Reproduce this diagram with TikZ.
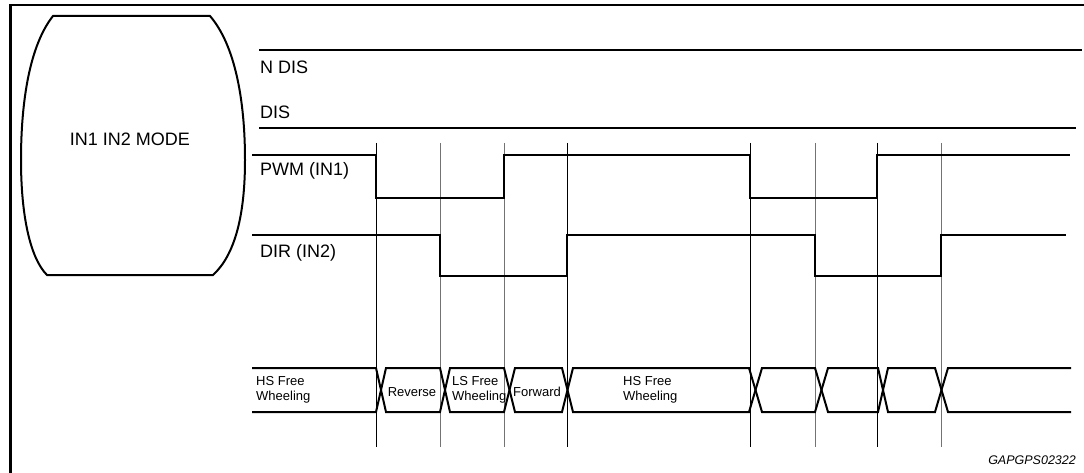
\documentclass[tikz,border=0pt]{standalone}
\usepackage{fontspec}
\setmainfont{Liberation Sans}
\begin{document}
\begin{tikzpicture}[x=1pt,y=-1pt,
  sig/.style={line width=2pt, line join=miter},
  frame/.style={line width=2.2pt},
  gridk/.style={line width=0.8pt, draw=black},
  gridg/.style={line width=0.8pt, draw=black!55},
  lbl/.style={font=\fontsize{18}{20}\selectfont, anchor=base west, inner sep=0pt},
  buslbl/.style={font=\fontsize{13}{15}\selectfont, align=left, inner sep=0pt},
  tag/.style={font=\fontsize{12.5}{14}\selectfont\itshape, anchor=base east, inner sep=0pt}]
\useasboundingbox (0,0) rectangle (1084,473);
% frame
\draw[frame] (10.5,480) -- (10.5,5) -- (1090,5);
% mode shape
\draw[line width=2pt] (53,16) -- (210,16) .. controls (235,45) and (245,100) .. (245,160)
  .. controls (245,215) and (235,255) .. (213,275) -- (47,275)
  .. controls (30,258) and (21,215) .. (21,160)
  .. controls (21,100) and (30,45) .. (53,16) -- cycle;
\node[font=\fontsize{18}{20}\selectfont, anchor=base, inner sep=0pt] (mode) at (130,146) {IN1 IN2 MODE};
% grid lines
\foreach \x in {376,567,750,877} \draw[gridk] (\x,143) -- (\x,447);
\foreach \x in {440,504,815,941} \draw[gridg] (\x,143) -- (\x,447);
% N DIS / DIS
\draw[sig] (259,50) -- (1082,50);
\node[lbl] (ndis) at (260,74) {N DIS};
\node[lbl] (dis) at (260,119) {DIS};
\draw[sig] (259,128) -- (1076,128);
% PWM
\draw[sig] (252,155) -- (376,155) -- (376,198) -- (504,198) -- (504,155) -- (750,155)
  -- (750,198) -- (877,198) -- (877,155) -- (1070,155);
\node[lbl] (pwm) at (260,176) {PWM (IN1)};
% DIR
\draw[sig] (252,235) -- (440,235) -- (440,276) -- (567,276) -- (567,235) -- (815,235)
  -- (815,276) -- (941,276) -- (941,235) -- (1066,235);
\node[lbl] (dir) at (260,257) {DIR (IN2)};
% bus
\draw[sig] (252,368) -- (376,368) -- (386,412) -- (440,412) -- (450,368) -- (504,368)
  -- (515,412) -- (562,412) -- (573,368) -- (749,368) -- (762,412) -- (815,412)
  -- (828,368) -- (878,368) -- (888,412) -- (935,412) -- (948,368) -- (1071,368);
\draw[sig] (252,412) -- (376,412) -- (386,368) -- (440,368) -- (450,412) -- (504,412)
  -- (515,368) -- (562,368) -- (573,412) -- (749,412) -- (762,368) -- (815,368)
  -- (828,412) -- (878,412) -- (888,368) -- (935,368) -- (948,412) -- (1071,412);
\node[buslbl, anchor=west] (hs1) at (256,390) {HS Free\\Wheeling};
\node[buslbl, anchor=base] (rev) at (412,396) {Reverse};
\node[buslbl, anchor=west] (ls) at (452,390) {LS Free\\Wheeling};
\node[buslbl, anchor=base] (fwd) at (537,396) {Forward};
\node[buslbl, anchor=west] (hs2) at (623,390) {HS Free\\Wheeling};
\node[tag] (code) at (1076,464) {GAPGPS02322};
\end{tikzpicture}
\end{document}
